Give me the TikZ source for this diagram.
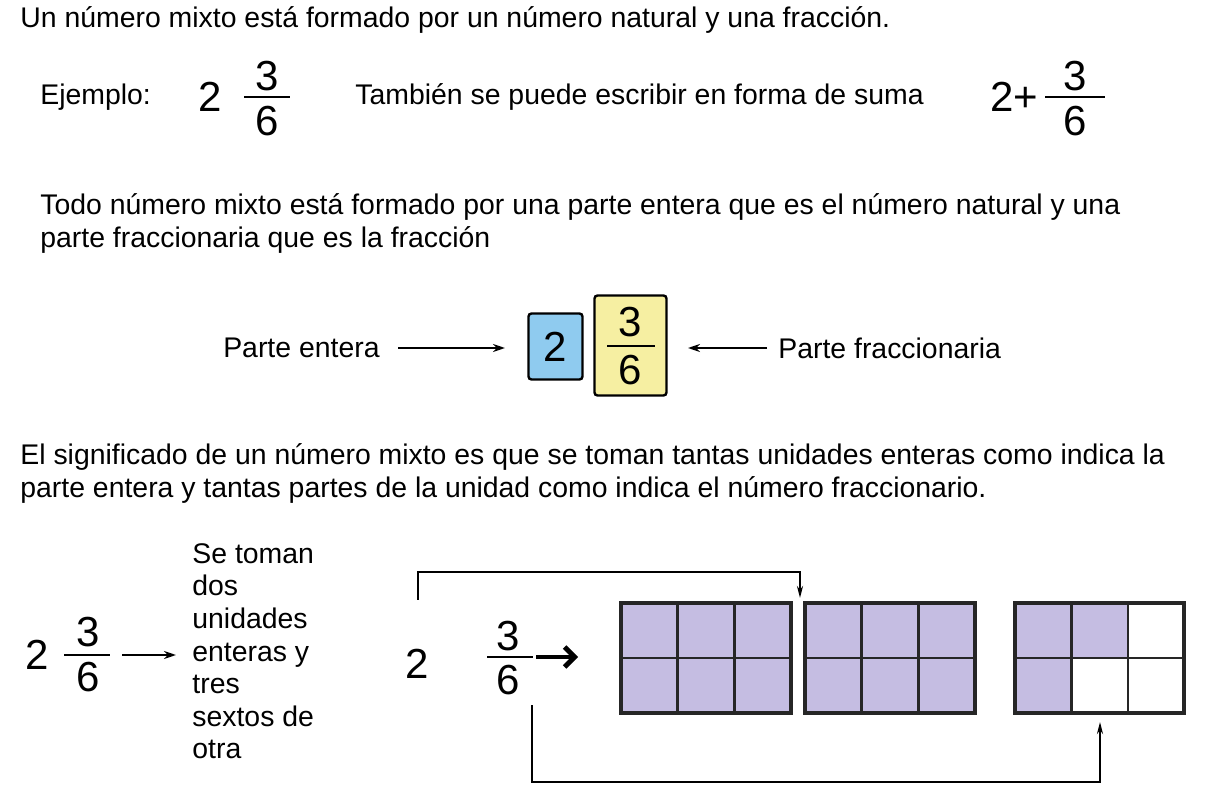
\documentclass[tikz,border=0pt]{standalone}
\usepackage{fontspec}
\setmainfont{Liberation Sans}
\usetikzlibrary{arrows.meta}
\definecolor{lila}{HTML}{C5BDE2}
\definecolor{azul}{HTML}{8FCBEF}
\definecolor{amar}{HTML}{F6EFA2}
\begin{document}
\begin{tikzpicture}[x=0.5pt,y=-0.5pt,
  txt/.style={anchor=west,inner sep=0pt,font=\fontsize{14.2}{16}\selectfont},
  big/.style={inner sep=0pt,font=\fontsize{21}{23}\selectfont},
  arr/.style={line width=1.4pt,-{Stealth[length=6pt,width=4pt]}},
  brk/.style={line width=1.3pt,-{Stealth[length=6pt,width=3pt]}},
  cell/.style={line width=1.2pt,draw=black!85}]
\useasboundingbox (0,0) rectangle (1212,802);
\node[txt] (t1) at (20,20) {Un número mixto está formado por un número natural y una fracción.};
\node[txt] (ej) at (40,97) {Ejemplo:};
\node[big] (e2) at (210,97) {2};
\node[big] (e3) at (267,76) {3};
\node[big] (e6) at (267,121) {6};
\draw[line width=1pt] (244,97) -- (290,97);
\node[txt] (tb) at (355,97) {También se puede escribir en forma de suma};
\node[big] (s2) at (1014,97) {2+};
\node[big] (s3) at (1075,76) {3};
\node[big] (s6) at (1075,121) {6};
\draw[line width=1pt] (1045,97) -- (1105,97);
\node[txt] (p2a) at (40,207) {Todo número mixto está formado por una parte entera que es el número natural y una};
\node[txt] (p2b) at (40,240) {parte fraccionaria que es la fracción};
\node[txt,anchor=east] (pe) at (380,348) {Parte entera};
\node[draw,line width=1.2pt,fill=azul,rounded corners=1.5pt,minimum width=27pt,minimum height=33pt,inner sep=0pt,font=\fontsize{21}{23}\selectfont] (bb) at (555.5,346.5) {2};
\node[draw,line width=1.2pt,fill=amar,rounded corners=1.5pt,minimum width=36pt,minimum height=50pt,inner sep=0pt] (yb) at (630.5,345.5) {};
\node[big] (y3) at (630,322) {3};
\node[big] (y6) at (630,370) {6};
\draw[line width=1pt] (607,346) -- (655,346);
\node[txt] (pf) at (778,348) {Parte fraccionaria};
\coordinate (a1) at (398,348);
\coordinate (a1e) at (505,348);
\coordinate (a2) at (767,348);
\coordinate (a2e) at (688,348);
\draw[arr] (a1) -- (a1e);
\draw[arr] (a2) -- (a2e);
\node[txt] (p3a) at (20,457) {El significado de un número mixto es que se toman tantas unidades enteras como indica la};
\node[txt] (p3b) at (20,490) {parte entera y tantas partes de la unidad como indica el número fraccionario.};
% bottom left
\node[big] (m2) at (37,655) {2};
\node[big] (m3) at (88,632) {3};
\node[big] (m6) at (88,677) {6};
\draw[line width=1pt] (64,655) -- (110,655);
\coordinate (b1) at (122,655);
\coordinate (b2) at (176,655);
\draw[arr] (b1) -- (b2);
\node[txt,anchor=north west,align=left,font=\fontsize{14.2}{16.3}\selectfont] (st) at (192,543) {Se toman\\dos\\unidades\\enteras y\\tres\\sextos de\\otra};
% right
\node[big] (r2) at (417,664) {2};
\node[big] (r3) at (508,636) {3};
\node[big] (r6) at (508,680) {6};
\draw[line width=1pt] (487,657) -- (533,657);
\draw[line width=2.4pt,-{Straight Barb[length=5pt,width=10pt]}] (536,657) -- (578,657);
% grids
\foreach \x in {621,805}{
  \fill[lila] (\x,603) rectangle ++(170,110);
  \draw[cell] (\x+56.67,603) -- ++(0,110) (\x+113.33,603) -- ++(0,110) (\x,658) -- ++(170,0);
  \draw[cell,line width=1.6pt] (\x,603) rectangle ++(170,110);
}
\fill[lila] (1015,603) rectangle ++(112.7,55);
\fill[lila] (1015,658) rectangle ++(56.3,55);
\draw[cell] (1071.3,603) -- ++(0,110) (1127.7,603) -- ++(0,110) (1015,658) -- ++(169,0);
\draw[cell,line width=1.6pt] (1015,603) rectangle ++(169,110);
\coordinate (c1) at (418,600);
\coordinate (c2) at (800,598);
\coordinate (d1) at (532,705);
\coordinate (d2) at (1100,722);
\draw[brk] (c1) -- (418,572) -- (800,572) -- (c2);
\draw[brk] (d1) -- (532,782) -- (1100,782) -- (d2);
\end{tikzpicture}
\end{document}
